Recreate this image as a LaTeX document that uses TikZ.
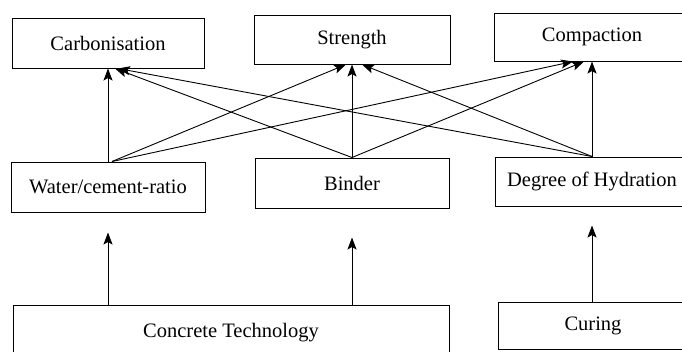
\documentclass[tikz,border=0pt]{standalone}
\usepackage{fontspec}
\setmainfont{Liberation Serif}
\usetikzlibrary{arrows.meta}

\begin{document}
\begin{tikzpicture}[x=1pt,y=-1pt,
    box/.style={draw,line width=1pt,inner sep=0pt,font=\fontsize{20.5}{24}\selectfont},
    >={Stealth[length=12pt,width=9pt,inset=2.5pt]}]
  \useasboundingbox (0,0) rectangle (682,351);
  % top row
  \node[box,minimum width=192pt,minimum height=50pt] (carb) at (108,43) {Carbonisation};
  \node[box,minimum width=196pt,minimum height=49pt] (str)  at (352,39.5) {Strength};
  \node[box,minimum width=196pt,minimum height=48pt] (comp) at (592,37) {Compaction};
  % middle row
  \node[box,minimum width=194pt,minimum height=50pt] (water)  at (108,187) {Water/cement-ratio};
  \node[box,minimum width=194pt,minimum height=50pt] (binder) at (352,183) {Binder};
  \node[box,minimum width=194pt,minimum height=49pt] (hydr)   at (592,181.5) {Degree of Hydration};
  % bottom row
  \node[box,minimum width=436pt,minimum height=56pt] (concrete) at (231,333) {Concrete Technology};
  \node[box,minimum width=190pt,minimum height=47pt] (curing)   at (593,325.5) {Curing};
  % every factor acts on every property
  \foreach \from/\sx/\to/\tx in {water/0/carb/0, binder/0/carb/7, hydr/0/carb/10,
                                  water/4/str/-6, binder/0/str/0, hydr/0/str/10,
                                  water/4/comp/-19, binder/0/comp/-8, hydr/0/comp/0}
    \draw[->,line width=0.9pt] ([xshift=\sx]\from.north) -- ([xshift=\tx]\to.south);
  % inputs from below, stopping short of the boxes
  \foreach \from/\to/\gap in {concrete/water/20, concrete/binder/29, curing/hydr/19}
    \draw[->,line width=0.9pt,shorten >=\gap] (\to.south |- \from.north) -- (\to.south);
\end{tikzpicture}
\end{document}
